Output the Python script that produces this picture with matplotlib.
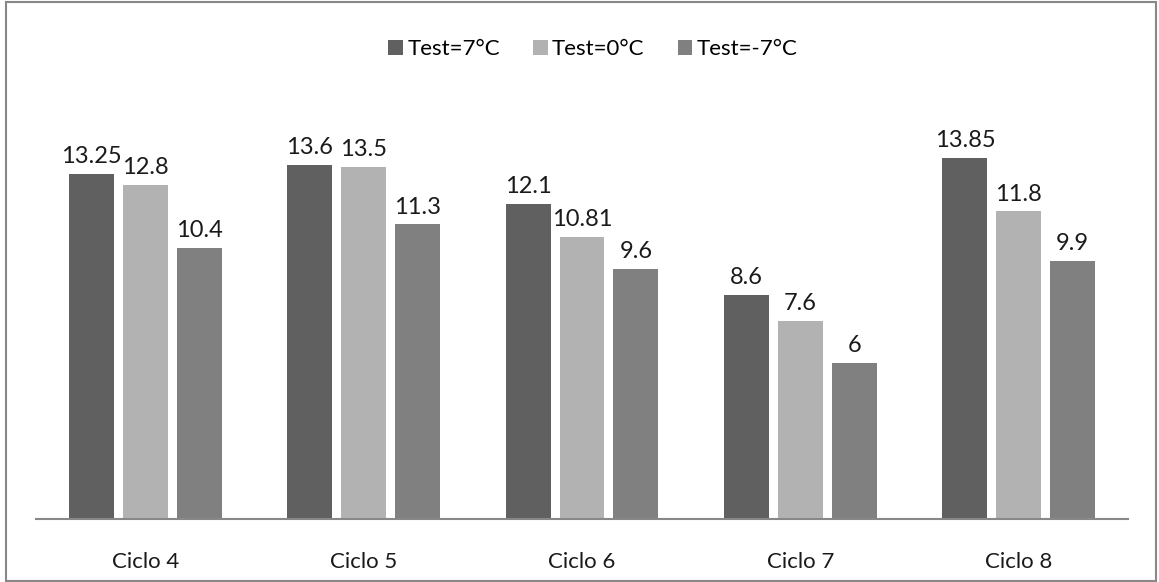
import matplotlib.pyplot as plt
import numpy as np
from matplotlib.patches import Rectangle

plt.rcParams['font.family'] = ['Lato', 'DejaVu Sans']

ciclos = ['Ciclo 4', 'Ciclo 5', 'Ciclo 6', 'Ciclo 7', 'Ciclo 8']
series = ['Test=7°C', 'Test=0°C', 'Test=-7°C']
t_7 = [13.25, 13.6, 12.1, 8.6, 13.85]
t_0 = [12.8, 13.5, 10.81, 7.6, 11.8]
t_m7 = [10.4, 11.3, 9.6, 6, 9.9]
colors = ['#606060', '#b2b2b2', '#808080']

fig = plt.figure(figsize=(11.59, 5.82), dpi=100)
ax = fig.add_axes([36/1159, 63/582, 1092/1159, 417/582])

x = np.arange(len(ciclos))
w = 0.206
step = 0.247
handles = []
for i, (vals, c, lab) in enumerate(zip([t_7, t_0, t_m7], colors, series)):
    pos = x + (i - 1) * step
    b = ax.bar(pos, vals, width=w, color=c, label=lab)
    handles.append(b)
    for p, v in zip(pos, vals):
        ax.annotate(f'{v:g}', (p, v), xytext=(0, 5), textcoords='offset points',
                    ha='center', va='bottom', fontsize=17, color='#1a1a1a')

ax.set_xlim(-0.5, len(ciclos) - 0.5)
ax.set_ylim(0, 16)
ax.set_yticks([])
ax.set_xticks(x)
ax.set_xticklabels(ciclos, fontsize=16, color='#1a1a1a')
ax.tick_params(axis='x', length=0, pad=24)
for s in ['top', 'left', 'right']:
    ax.spines[s].set_visible(False)
ax.spines['bottom'].set_color('#888888')
ax.spines['bottom'].set_linewidth(1.5)

fig.legend(handles=handles, loc='center', bbox_to_anchor=(593/1159, 1 - 49/582), ncol=3,
           frameon=False, fontsize=16, handlelength=0.65, handleheight=0.65,
           handletextpad=0.2, columnspacing=1.5)

fig.patches.append(Rectangle((6/1159, 1/582), 1150/1159, 579/582, transform=fig.transFigure,
                             fill=False, edgecolor='#888888', linewidth=1.5))

fig.savefig('out.png', dpi=100)
